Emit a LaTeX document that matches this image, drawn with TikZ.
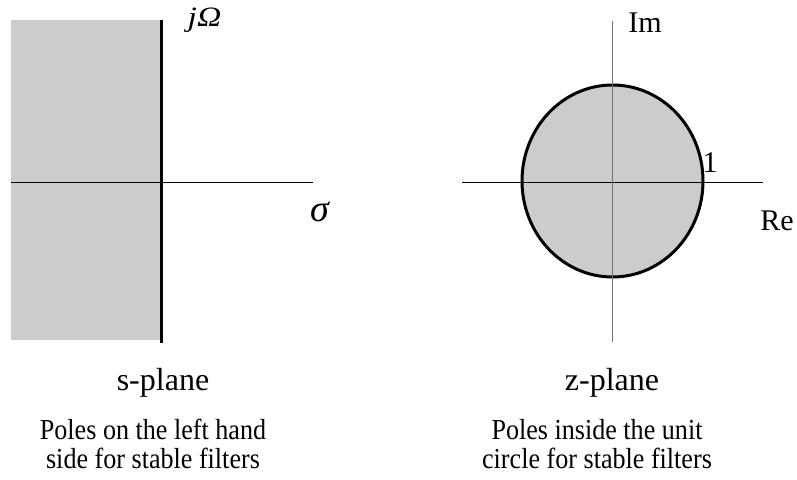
\documentclass[tikz,border=0pt]{standalone}
\usepackage{fontspec}
\setmainfont{Liberation Serif}
\newfontfamily\capfont[FakeStretch=0.9]{Liberation Serif}
\newfontfamily\widefont[FakeStretch=1.2]{Liberation Serif}
\usetikzlibrary{positioning}

\tikzset{
  axis/.style={line width=1pt},
  lbl/.style={anchor=base, inner sep=0pt, font=\fontsize{30}{32}\selectfont},
  caption/.style={align=center, inner sep=0pt, font=\capfont\fontsize{29}{29}\selectfont}
}

\begin{document}
\begin{tikzpicture}[x=1pt, y=-1pt]
        \useasboundingbox (0,0) rectangle (797,479);

        % --- s-plane (left half shaded) ---
        \fill[black!20] (11,20) rectangle (161,340);
        \coordinate (s_left) at (11,182);
        \coordinate (s_right) at (313,182);
        \coordinate (s_top) at (161,20);
        \coordinate (s_bottom) at (161,343);
        \draw[axis] (s_left) -- (s_right);
        \draw[line width=3pt] (s_top) -- (s_bottom);
        \node[lbl, font=\widefont\fontsize{28}{30}\selectfont\itshape] (jomega) at (204.5,26) {jΩ};
        \node[lbl, font=\fontsize{38}{40}\selectfont\itshape] (sigma) at (320,221) {σ};

        % --- z-plane (unit circle) ---
        \coordinate (z_origin) at (612.5,181);
        \coordinate (z_left) at (462,182);
        \coordinate (z_right) at (763,182);
        \coordinate (z_top) at (612.5,21);
        \coordinate (z_bottom) at (612.5,342);
        \filldraw[fill=black!20, line width=3pt] (z_origin) ellipse (90.5 and 96);
        \draw[axis] (z_left) -- (z_right);
        \draw[axis, black!55] (z_top) -- (z_bottom);
        \node[lbl] (im) at (645,32) {Im};
        \node[lbl] (one) at (710,172) {1};
        \node[lbl] (re) at (777,230) {Re};

        % --- Captions ---
        \node[lbl, font=\fontsize{32}{34}\selectfont] (splane) at (163,390) {s-plane};
        \node[lbl, font=\fontsize{32}{34}\selectfont] (zplane) at (612,390) {z-plane};
        \node[caption] (scap) at (153,444) {Poles on the left hand\\side for stable filters};
        \node[caption] (zcap) at (597,444) {Poles inside the unit\\circle for stable filters};
    \end{tikzpicture}
\end{document}
